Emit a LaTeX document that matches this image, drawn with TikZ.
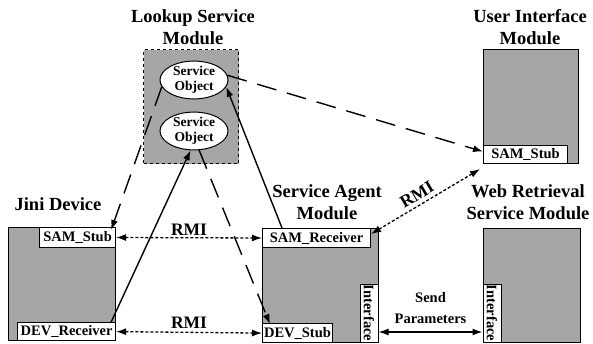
\documentclass[tikz,border=0pt]{standalone}
\usepackage{fontspec}
\setmainfont{Liberation Serif}
\usetikzlibrary{arrows.meta,shapes.geometric}
\definecolor{modgray}{RGB}{166,166,166}
\tikzset{
  module/.style={draw=black, line width=1.1pt, fill=modgray, anchor=north west, inner sep=0pt},
  lab/.style={draw=black, line width=1pt, fill=white, inner sep=0pt,
    font=\fontsize{14.5}{16}\selectfont\bfseries},
  obj/.style={ellipse, draw=black, line width=1pt, fill=white, minimum width=68pt,
    minimum height=36pt, inner sep=0pt, align=center,
    font=\fontsize{13.5}{14.5}\selectfont\bfseries},
  title/.style={align=center, inner sep=0pt, font=\fontsize{18.5}{22.5}\selectfont\bfseries},
  rmitext/.style={inner sep=1pt, font=\fontsize{17.5}{19}\selectfont\bfseries},
  tip/.style={-{Latex[length=10pt,width=7pt]}},
  dtip/.style={{Latex[length=10pt,width=7pt]}-{Latex[length=10pt,width=7pt]}},
  longdash/.style={line width=1.4pt, dash pattern=on 20pt off 11pt, tip},
  solidarr/.style={line width=1.4pt, tip},
  rmiline/.style={line width=1.3pt, dash pattern=on 3pt off 2pt, dtip},
}
\begin{document}
\begin{tikzpicture}[x=1pt,y=-1pt]
\useasboundingbox (0,0) rectangle (593,344);

% Lookup service module with its two service objects
\node[title] (lstitle) at (193,27) {Lookup Service\\Module};
\node[module, dashed, minimum width=95pt, minimum height=114pt] (ls) at (143,49) {};
\node[obj] (so1) at (194,80) {Service\\Object};
\node[obj] (so2) at (194,131) {Service\\Object};

% User interface module
\node[title] (uititle) at (530,27) {User Interface\\Module};
\node[module, minimum width=95pt, minimum height=114pt] (ui) at (483,49) {};
\node[lab, anchor=south west, minimum width=84pt, minimum height=18pt] (uisam) at (ui.south west) {SAM\_Stub};

% Jini device
\node[title] (jinititle) at (58,204) {Jini Device};
\node[module, minimum width=107pt, minimum height=113pt] (jini) at (8,227) {};
\node[lab, anchor=north east, minimum width=76pt, minimum height=20pt] (jsam) at (jini.north east) {SAM\_Stub};
\node[lab, anchor=south east, minimum width=98pt, minimum height=18pt] (jdev) at (jini.south east) {DEV\_Receiver};

% Service agent module
\node[title] (satitle) at (327,202) {Service Agent\\Module};
\node[module, minimum width=116pt, minimum height=114pt] (sa) at (262,228) {};
\node[lab, anchor=north west, minimum width=108pt, minimum height=19pt] (sarec) at (sa.north west) {SAM\_Receiver};
\node[lab, anchor=south west, minimum width=70pt, minimum height=19pt] (sastub) at (sa.south west) {DEV\_Stub};
\node[lab, rotate=-90, minimum width=58pt, minimum height=18pt] (saif) at (369,313) {Interface};

% Web retrieval service module
\node[title] (wrtitle) at (528,202) {Web Retrieval\\Service Module};
\node[module, minimum width=97pt, minimum height=114pt] (wr) at (483,228) {};
\node[lab, rotate=-90, minimum width=58pt, minimum height=18pt] (wrif) at (492,313) {Interface};

% Lookup and download of service objects
\draw[longdash] (so1.192) -- ([xshift=-5pt,yshift=-3pt]jsam.north east);
\draw[longdash] (so1.8) -- ([yshift=3pt]uisam.west);
\draw[longdash] (so2.-75) -- ([xshift=8pt,yshift=-1pt]sastub.north west);
\draw[solidarr] ([xshift=-5pt]jdev.north east) -- (so2.-100);
\draw[solidarr] ([xshift=20pt]sarec.north west) -- (so1.-12);

% Remote method invocations
\draw[rmiline] (jsam.east) -- node[rmitext, above=1pt] {RMI} (sarec.west);
\draw[rmiline] (jdev.east) -- node[rmitext, above=2pt] {RMI} (sastub.west);
\draw[rmiline] ([yshift=4pt]sarec.east) -- node[rmitext, sloped, above=3pt, pos=0.47] {RMI} ([xshift=-3pt,yshift=-5pt]ui.south west);

% Parameter passing between the interfaces
\draw[line width=1.4pt, dtip] ([yshift=-19pt]saif.north) -- node[above=8pt, title, font=\fontsize{14.5}{21}\selectfont\bfseries] {Send\\Parameters} ([yshift=-19pt]wrif.south);
\end{tikzpicture}
\end{document}
